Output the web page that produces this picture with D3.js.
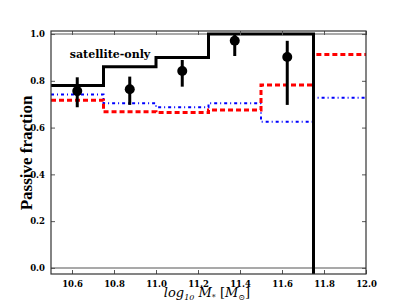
<!DOCTYPE html>
<html>
<head>
<meta charset="utf-8">
<script src="https://cdn.jsdelivr.net/npm/d3@7"></script>
<style>
body { margin: 0; background: #fff; }
svg text { font-family: "DejaVu Serif", "Liberation Serif", serif; }
</style>
</head>
<body>
<svg id="chart" width="407" height="305"></svg>
<script>
// bin edges in log10 M*
var binEdges = [10.5, 10.75, 11.0, 11.25, 11.5, 11.75, 12.0];
// satellite-only passive fraction (last bin empty, drops off the axis)
var satOnly = [0.78, 0.86, 0.90, 1.0, 1.0, -0.1];
var redModel = [0.717, 0.668, 0.664, 0.675, 0.782, 0.913];
var blueModel = [0.742, 0.704, 0.687, 0.704, 0.625, 0.728];
// observed points with error bars
var obsX = [10.625, 10.875, 11.125, 11.375, 11.625];
var obsY = [0.756, 0.764, 0.842, 0.971, 0.902];
var obsLo = [0.687, 0.697, 0.775, 0.906, 0.697];
var obsHi = [0.815, 0.818, 0.889, 0.996, 0.971];
var xTicks = [10.6, 10.8, 11.0, 11.2, 11.4, 11.6, 11.8, 12.0];
var yTicks = [0.0, 0.2, 0.4, 0.6, 0.8, 1.0];

var svg = d3.select("#chart");
var pLeft = 51, pRight = 366, pTop = 31, pBottom = 274;
var width = pRight - pLeft, height = pBottom - pTop;

var x = d3.scaleLinear().domain([10.5, 12.0]).range([pLeft, pRight]);
var y = d3.scaleLinear().domain([-0.026, 1.013]).range([pBottom, pTop]);

svg.append("clipPath").attr("id", "clip")
  .append("rect").attr("x", pLeft).attr("y", pTop).attr("width", width).attr("height", height);

var plot = svg.append("g").attr("clip-path", "url(#clip)");

// reference lines at 0 and 1
[0, 1].forEach(function(v) {
  plot.append("line")
    .attr("x1", pLeft).attr("x2", pRight)
    .attr("y1", y(v)).attr("y2", y(v))
    .style("stroke", "#8c8c8c").style("stroke-width", 1.5);
});

function stepPoints(vals) {
  var pts = [];
  for (var i = 0; i < vals.length; i++) {
    pts.push([binEdges[i], vals[i]]);
    pts.push([binEdges[i + 1], vals[i]]);
  }
  return pts;
}

var line = d3.line().x(function(d) { return x(d[0]); }).y(function(d) { return y(d[1]); });

plot.append("path").datum(stepPoints(blueModel))
  .attr("d", line)
  .style("fill", "none").style("stroke", "#0000ff").style("stroke-width", 2)
  .style("stroke-dasharray", "3,3,1,3");

plot.append("path").datum(stepPoints(redModel))
  .attr("d", line)
  .style("fill", "none").style("stroke", "#ff0000").style("stroke-width", 3)
  .style("stroke-dasharray", "5,3");

plot.append("path").datum(stepPoints(satOnly))
  .attr("d", line)
  .style("fill", "none").style("stroke", "#000").style("stroke-width", 3);

// error bars and points
var obs = obsX.map(function(v, i) { return {x: v, y: obsY[i], lo: obsLo[i], hi: obsHi[i]}; });

plot.selectAll("line.err").data(obs).enter().append("line")
  .attr("class", "err")
  .attr("x1", function(d) { return x(d.x); })
  .attr("x2", function(d) { return x(d.x); })
  .attr("y1", function(d) { return y(d.lo); })
  .attr("y2", function(d) { return y(d.hi); })
  .style("stroke", "#000").style("stroke-width", 3);

plot.selectAll("circle").data(obs).enter().append("circle")
  .attr("cx", function(d) { return x(d.x); })
  .attr("cy", function(d) { return y(d.y); })
  .attr("r", 5)
  .style("fill", "#000");

// axes (ticks pointing inward on all sides)
var tickColor = "#555";
svg.append("g")
  .attr("transform", "translate(0," + pBottom + ")")
  .call(d3.axisBottom(x).tickValues(xTicks).tickSize(-4).tickPadding(7).tickFormat(d3.format(".1f")))
  .call(function(g) {
    g.select(".domain").remove();
    g.selectAll(".tick line").style("stroke", tickColor);
    g.selectAll("text").style("font-size", "8.5px").style("font-weight", "bold").style("fill", "#000");
  });

svg.append("g")
  .attr("transform", "translate(0," + pTop + ")")
  .call(d3.axisTop(x).tickValues(xTicks).tickSize(-4).tickFormat(""))
  .call(function(g) {
    g.select(".domain").remove();
    g.selectAll(".tick line").style("stroke", tickColor);
  });

svg.append("g")
  .attr("transform", "translate(" + pLeft + ",0)")
  .call(d3.axisLeft(y).tickValues(yTicks).tickSize(-4).tickPadding(6).tickFormat(d3.format(".1f")))
  .call(function(g) {
    g.select(".domain").remove();
    g.selectAll(".tick line").style("stroke", tickColor);
    g.selectAll("text").style("font-size", "8.5px").style("font-weight", "bold").style("fill", "#000");
  });

svg.append("g")
  .attr("transform", "translate(" + pRight + ",0)")
  .call(d3.axisRight(y).tickValues(yTicks).tickSize(-4).tickFormat(""))
  .call(function(g) {
    g.select(".domain").remove();
    g.selectAll(".tick line").style("stroke", tickColor);
  });

svg.append("rect")
  .attr("x", pLeft).attr("y", pTop).attr("width", width).attr("height", height)
  .style("fill", "none").style("stroke", "#333").style("stroke-width", 1.2);

// labels
svg.append("text")
  .attr("x", 110).attr("y", 58)
  .attr("text-anchor", "middle")
  .style("font-size", "11px").style("font-weight", "bold")
  .text("satellite-only");

svg.append("g")
  .attr("transform", "translate(32," + 153 + ")")
  .append("text")
  .attr("text-anchor", "middle")
  .attr("transform", "rotate(-90)")
  .style("font-family", "'Liberation Serif', serif")
  .style("font-size", "17px").style("font-weight", "bold")
  .text("Passive fraction");

var xl = svg.append("text")
  .attr("x", 207).attr("y", 297)
  .attr("text-anchor", "middle")
  .style("font-size", "13px").style("font-style", "italic");
xl.append("tspan").text("log");
xl.append("tspan").attr("dy", 3).style("font-size", "8px").text("10");
xl.append("tspan").attr("dy", -3).text(" M");
xl.append("tspan").attr("dy", 3).style("font-size", "8px").text("*");
xl.append("tspan").attr("dy", -3).style("font-style", "normal").text(" [");
xl.append("tspan").text("M");
xl.append("tspan").attr("dy", 3).style("font-size", "8px").style("font-style", "normal").text("\u2299");
xl.append("tspan").attr("dy", -3).style("font-style", "normal").text("]");
</script>
</body>
</html>
